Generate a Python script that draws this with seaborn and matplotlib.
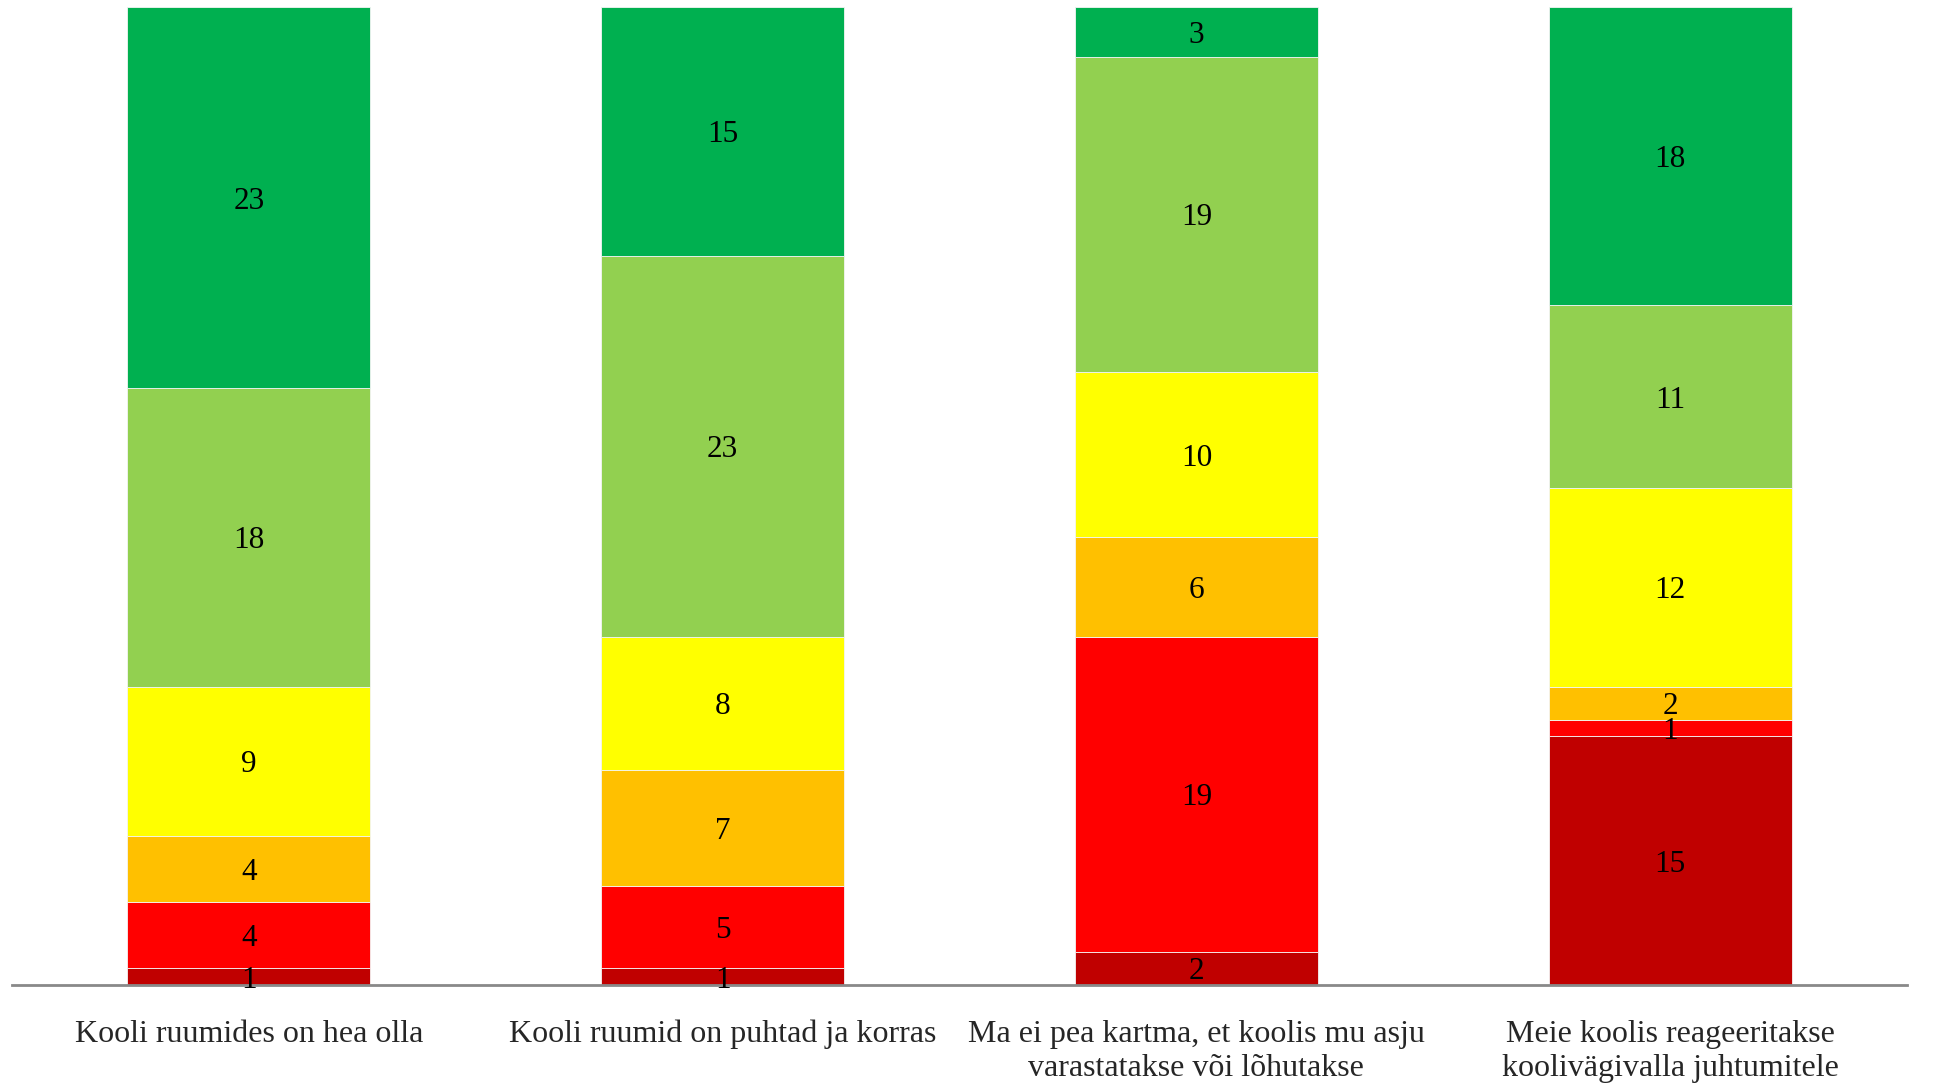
import numpy as np
import pandas as pd
import matplotlib
matplotlib.use("Agg")
import matplotlib.pyplot as plt
import seaborn as sns

questions = [
    "Kooli ruumides on hea olla",
    "Kooli ruumid on puhtad ja korras",
    "Ma ei pea kartma, et koolis mu asju\nvarastatakse või lõhutakse",
    "Meie koolis reageeritakse\nkoolivägivalla juhtumitele",
]
levels = ["1", "2", "3", "4", "5", "6"]
v1 = [1, 1, 2, 15]      # dark red
v2 = [4, 5, 19, 1]      # red
v3 = [4, 7, 6, 2]       # orange
v4 = [9, 8, 10, 12]     # yellow
v5 = [18, 23, 19, 11]   # light green
v6 = [23, 15, 3, 18]    # green
series = [v1, v2, v3, v4, v5, v6]
colors = ["#C00000", "#FF0000", "#FFC000", "#FFFF00", "#92D050", "#00B050"]

sns.set_theme(style="white")
plt.rcParams["font.family"] = ["Liberation Serif", "DejaVu Serif"]

fig = plt.figure(figsize=(19.34, 10.86), dpi=100)
ax = fig.add_axes([12 / 1934, 1 - 985 / 1086, (1907 - 12) / 1934, (985 - 7) / 1086])

bottom = np.zeros(len(questions))
for lvl, vals, col in zip(levels, series, colors):
    df = pd.DataFrame({"q": questions, "v": vals})
    sns.barplot(data=df, x="q", y="v", color=col, saturation=1, width=0.513,
                bottom=bottom, edgecolor="#f4f4f4", linewidth=0.6, ax=ax)
    for i, v in enumerate(vals):
        ax.text(i, bottom[i] + v / 2, str(v), ha="center", va="center_baseline",
                fontsize=22.5, color="black")
    bottom = bottom + np.array(vals)

ax.set_xlim(-0.5, len(questions) - 0.5)
ax.set_ylim(0, 59)
ax.set_xlabel("")
ax.set_ylabel("")
ax.set_yticks([])
for s in ["top", "right", "left"]:
    ax.spines[s].set_visible(False)
ax.spines["bottom"].set_color("#898989")
ax.spines["bottom"].set_linewidth(2)
ax.tick_params(axis="x", length=0, pad=25, labelsize=23)
for lab in ax.get_xticklabels():
    lab.set_linespacing(1.25)

fig.savefig("out.png", dpi=100)
